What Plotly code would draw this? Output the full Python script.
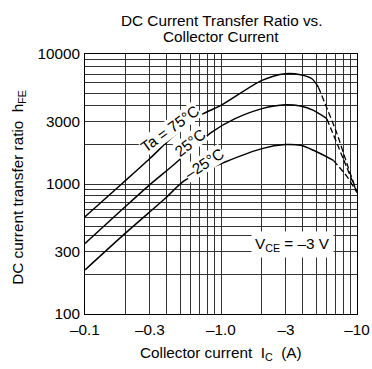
import math
import plotly.graph_objects as go

# ---- data (|Ic| in A, hFE) ----
ic_75_solid = [0.1, 0.186, 0.3, 0.43, 0.72, 1.0, 2.0, 2.97, 3.84, 4.66, 5.2]
hfe_75_solid = [560, 1000, 1570, 2250, 3415, 4025, 6264, 7050, 6925, 6450, 5560]
ic_75_dash = [5.2, 7.13, 8.43, 10.0]
hfe_75_dash = [5560, 2440, 1436, 860]

ic_25_solid = [0.1, 0.191, 0.3, 0.447, 0.856, 1.27, 2.0, 2.97, 3.84, 4.79, 6.0]
hfe_25_solid = [349, 648, 990, 1400, 2510, 3180, 3800, 4070, 3975, 3680, 3180]
ic_25_dash = [6.0, 8.0, 10.0]
hfe_25_dash = [3180, 1527, 860]

ic_m25_solid = [0.1, 0.191, 0.388, 0.545, 1.073, 2.0, 2.97, 3.84, 4.79, 6.7]
hfe_m25_solid = [218, 404, 773, 1069, 1477, 1872, 2010, 1984, 1816, 1521]
ic_m25_dash = [6.7, 8.4, 10.0]
hfe_m25_dash = [1521, 1150, 860]

# grid / tick values
x_grid = [0.1, 0.2, 0.3, 0.4, 0.5, 0.6, 0.7, 0.8, 0.9, 1, 2, 3, 4, 5, 6, 7, 8, 9, 10]
x_labels = {0.1: "–0.1", 0.3: "–0.3", 1: "–1.0", 3: "–3", 10: "–10"}
y_grid = [100, 200, 300, 400, 470, 555, 640, 720, 810, 900, 1000, 2000, 3000,
          4000, 5000, 6000, 7000, 8000, 9000, 10000]
y_labels = {100: "100", 300: "300", 1000: "1000", 3000: "3000", 10000: "10000"}

FONT = "Liberation Sans, Arial, sans-serif"
FS = 15.3

fig = go.Figure()
solid = [(ic_75_solid, hfe_75_solid), (ic_25_solid, hfe_25_solid), (ic_m25_solid, hfe_m25_solid)]
dashed = [(ic_75_dash, hfe_75_dash), (ic_25_dash, hfe_25_dash), (ic_m25_dash, hfe_m25_dash)]
for xs, ys in solid:
    fig.add_trace(go.Scatter(x=xs, y=ys, mode="lines",
                             line=dict(color="black", width=1.5, shape="spline", smoothing=0.8),
                             hoverinfo="skip", showlegend=False))
for xs, ys in dashed:
    fig.add_trace(go.Scatter(x=xs, y=ys, mode="lines",
                             line=dict(color="black", width=1.3, dash="6px,3px", shape="spline", smoothing=0.5),
                             hoverinfo="skip", showlegend=False))

axis_common = dict(type="log", showgrid=True, gridcolor="#333", gridwidth=1,
                   showline=True, linecolor="black", linewidth=1, mirror=True, automargin=False,
                   ticks="", zeroline=False, tickfont=dict(family=FONT, size=FS, color="black"))

fig.update_xaxes(range=[-1, 1], tickmode="array", tickvals=x_grid,
                 ticktext=[x_labels.get(v, "") for v in x_grid], ticklabelstandoff=2, **axis_common)
fig.update_yaxes(range=[2, 4], tickmode="array", tickvals=y_grid,
                 ticktext=[y_labels.get(v, "") for v in y_grid], ticklabelstandoff=1, **axis_common)

anns = []
# curve labels
for txt, ic, h, ang in [("Ta = 75°C", 0.4224, 2666, -36),
                        ("25°C", 0.593, 2080, -38),
                        ("–25°C", 0.752, 1435, -33)]:
    anns.append(dict(x=math.log10(ic), y=math.log10(h), xref="x", yref="y", text=txt,
                     showarrow=False, textangle=ang, bgcolor="white", borderpad=0,
                     xanchor="center", yanchor="middle",
                     font=dict(family=FONT, size=FS, color="black")))
anns.append(dict(x=math.log10(3.34), y=math.log10(342), xref="x", yref="y",
                 text="V<sub>CE</sub> = –3 V", showarrow=False, bgcolor="white", borderpad=3,
                 xanchor="center", yanchor="middle",
                 font=dict(family=FONT, size=FS, color="black")))
# titles
for txt, x, y, ang in [("DC Current Transfer Ratio vs.", 0.5, 1.127, 0),
                       ("Collector Current", 0.5, 1.066, 0),
                       ("Collector current\u00a0\u00a0I<sub>C</sub>\u00a0\u00a0(A)", 0.5, -0.151, 0),
                       ("DC current transfer ratio\u00a0\u00a0h<sub>FE</sub>", -0.243, 0.489, -90)]:
    anns.append(dict(x=x, y=y, xref="paper", yref="paper", text=txt, textangle=ang,
                     showarrow=False, xanchor="center", yanchor="middle",
                     font=dict(family=FONT, size=FS, color="black")))

fig.update_layout(width=372, height=369, margin=dict(l=85, r=15, t=54, b=55),
                  paper_bgcolor="white", plot_bgcolor="white", annotations=anns,
                  showlegend=False)
fig.write_html("out.html", config={"displayModeBar": False, "staticPlot": True},
               post_script="document.body.style.margin='0';")
